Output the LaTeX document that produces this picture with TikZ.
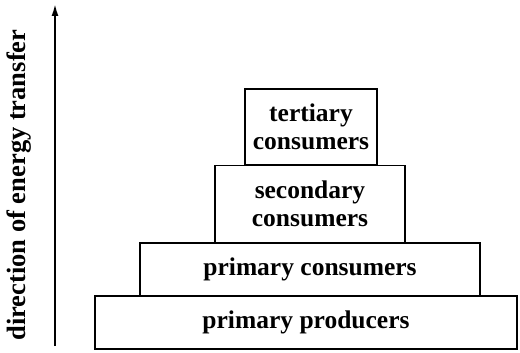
\documentclass[tikz,border=0pt]{standalone}
\usepackage{fontspec}
\setmainfont{Liberation Serif}
\usetikzlibrary{arrows.meta}
\begin{document}
\begin{tikzpicture}[x=1pt,y=-1pt,
  level/.style={draw, line width=1.8pt, inner sep=0pt, align=center,
    font=\fontsize{25.5}{28}\selectfont\bfseries},
  lbl/.style={font=\fontsize{26.5}{28}\selectfont\bfseries}]
\useasboundingbox (0,0) rectangle (520,353);
\node[level, minimum width=422pt, minimum height=53pt] (pp) at (306,322.5) {primary producers};
\node[level, minimum width=340pt, minimum height=53pt] (pc) at (310,269.5) {primary consumers};
\node[level, minimum width=190pt, minimum height=77pt] (sc) at (310,204) {secondary\\consumers};
\node[level, minimum width=132pt, minimum height=76pt] (tc) at (311,127) {tertiary\\consumers};
\coordinate (a0) at (55,346);
\coordinate (a1) at (55,4);
\draw[line width=1.8pt, -{Latex[length=12pt,width=7pt]}] (a0) -- (a1);
\node[lbl, rotate=90] (dir) at (19,185) {direction of energy transfer};
\end{tikzpicture}
\end{document}
